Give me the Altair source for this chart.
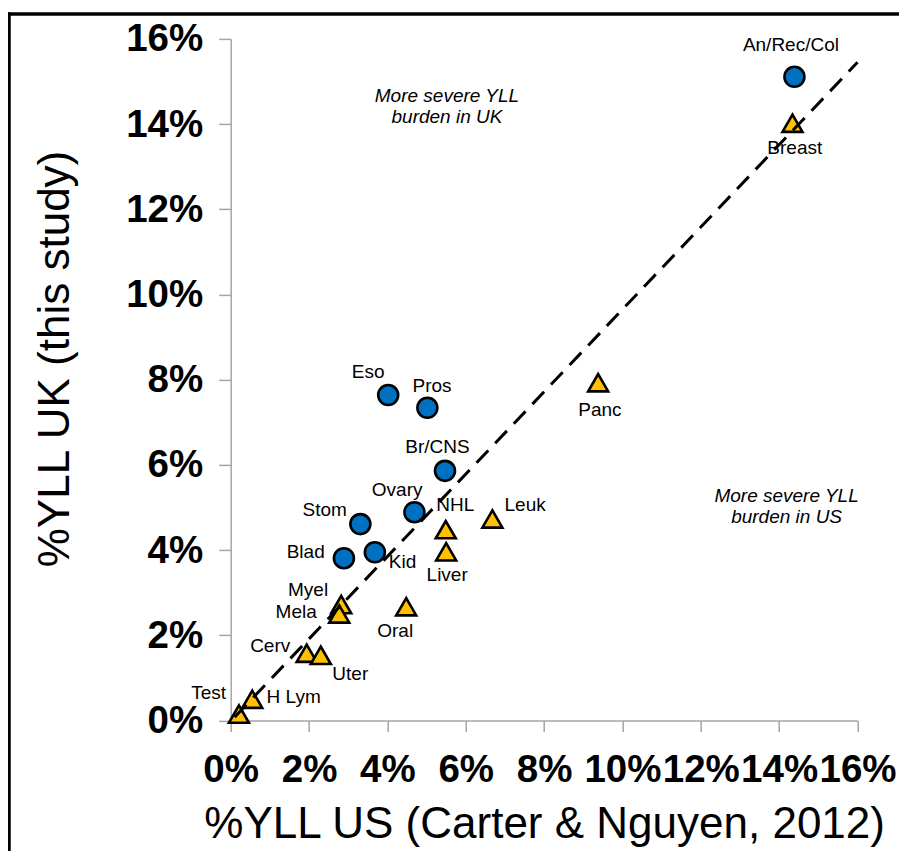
import altair as alt
import pandas as pd

# ---- data ----
names = ["An/Rec/Col", "Breast", "Eso", "Pros", "Br/CNS", "Ovary", "Stom", "Blad",
         "Kid", "NHL", "Liver", "Leuk", "Panc", "Myel", "Mela", "Oral", "Cerv",
         "Uter", "H Lym", "Test"]
yll_us = [14.39, 14.34, 4.02, 5.02, 5.47, 4.69, 3.31, 2.89, 3.68, 5.49, 5.50,
          6.68, 9.38, 2.82, 2.77, 4.48, 1.94, 2.30, 0.55, 0.21]
yll_uk = [15.11, 14.02, 7.64, 7.34, 5.86, 4.89, 4.61, 3.81, 3.95, 4.48, 3.96,
          4.73, 7.93, 2.72, 2.50, 2.67, 1.58, 1.53, 0.50, 0.15]
group = ["circle", "triangle", "circle", "circle", "circle", "circle", "circle",
         "circle", "circle", "triangle", "triangle", "triangle", "triangle",
         "triangle", "triangle", "triangle", "triangle", "triangle", "triangle",
         "triangle"]

trend_x = [0.1, 16.0]
trend_y = [0.08, 15.45]

ann_text = ["More severe YLL\nburden in UK", "More severe YLL\nburden in US"]
ann_x = [5.52, 14.19]
ann_y = [14.53, 5.14]

tick_values = [0, 2, 4, 6, 8, 10, 12, 14, 16]

# label offsets (pixels) relative to each marker
label_offsets = {
    "An/Rec/Col": (-3.5, -31.7), "Breast": (2.3, 25), "Eso": (-20, -22.7),
    "Pros": (4.7, -21.7), "Br/CNS": (-7.5, -23.7), "Ovary": (-17.3, -22.3),
    "Stom": (-35.6, -14), "Blad": (-38.2, -6.6), "Kid": (27.7, 9.4),
    "NHL": (9.6, -24.7), "Liver": (1, 23.3), "Leuk": (32.7, -13.8),
    "Panc": (1.7, 27.2), "Myel": (-33.1, -14.5), "Mela": (-43, -1.9),
    "Oral": (-11, 24), "Cerv": (-36.5, -7), "Uter": (29.5, 18.8),
    "H Lym": (41.4, -2), "Test": (-30.3, -21),
}

FONT = "Liberation Sans"

df = pd.DataFrame({"name": names, "us": yll_us, "uk": yll_uk, "group": group})
trend = pd.DataFrame({"us": trend_x, "uk": trend_y})
ann = pd.DataFrame({"text": ann_text, "us": ann_x, "uk": ann_y})

x_axis = alt.Axis(values=tick_values, labelExpr="datum.value + '%'",
                  title="%YLL US (Carter & Nguyen, 2012)", grid=False,
                  domainColor="#A6A6A6", domainWidth=1.5,
                  tickColor="#A6A6A6", tickWidth=1.5, tickSize=11,
                  labelFont=FONT, labelFontSize=38.5, labelFontWeight="bold",
                  labelColor="black", labelOverlap=False, labelFlush=False,
                  labelBaseline="alphabetic", labelPadding=50,
                  titleFont=FONT, titleFontSize=44, titleFontWeight="normal",
                  titleColor="black", titleBaseline="alphabetic", titleY=116.5)
y_axis = alt.Axis(values=tick_values, labelExpr="datum.value + '%'",
                  title="%YLL UK (this study)", grid=False,
                  domainColor="#A6A6A6", domainWidth=1.5,
                  tickColor="#A6A6A6", tickWidth=1.5, tickSize=12,
                  labelFont=FONT, labelFontSize=38.5, labelFontWeight="bold",
                  labelColor="black", labelOverlap=False, labelFlush=False,
                  labelPadding=16,
                  titleFont=FONT, titleFontSize=44, titleFontWeight="normal",
                  titleColor="black", titleAngle=270, titleAlign="center",
                  titleBaseline="alphabetic", titleX=-162.4, titleY=319.6)

xs = alt.Scale(domain=[0, 16], nice=False, zero=False)
ys = alt.Scale(domain=[0, 16], nice=False, zero=False)

points = alt.Chart(df).mark_point(filled=True, stroke="black", strokeWidth=2.6,
                                  opacity=1, size=400).encode(
    x=alt.X("us:Q", scale=xs, axis=x_axis),
    y=alt.Y("uk:Q", scale=ys, axis=y_axis),
    shape=alt.Shape("group:N", scale=alt.Scale(domain=["circle", "triangle"],
                                               range=["circle", "triangle-up"]),
                    legend=None),
    fill=alt.Fill("group:N", scale=alt.Scale(domain=["circle", "triangle"],
                                             range=["#0070C0", "#FFC000"]),
                  legend=None),
)

line = alt.Chart(trend).mark_line(color="black", strokeWidth=3,
                                  strokeDash=[17, 10]).encode(
    x=alt.X("us:Q", scale=xs), y=alt.Y("uk:Q", scale=ys))

label_layers = []
for nm, (dx, dy) in label_offsets.items():
    label_layers.append(
        alt.Chart(df).transform_filter(alt.datum.name == nm)
        .mark_text(font=FONT, fontSize=19, color="black", align="center",
                   baseline="middle", dx=dx, dy=dy)
        .encode(x=alt.X("us:Q", scale=xs), y=alt.Y("uk:Q", scale=ys),
                text="name:N"))

notes = alt.Chart(ann).mark_text(font=FONT, fontSize=19, fontStyle="italic",
                                 color="black", align="center",
                                 baseline="alphabetic", lineBreak="\n",
                                 lineHeight=21.6).encode(
    x=alt.X("us:Q", scale=xs), y=alt.Y("uk:Q", scale=ys), text="text:N")

frame_data = alt.Data(values=[{"k": 1}])
frame_top = alt.Chart(frame_data).mark_rule(color="black", strokeWidth=3.5).encode(
    x=alt.value(-223), x2=alt.value(800), y=alt.value(-24.9))
frame_left = alt.Chart(frame_data).mark_rule(color="black", strokeWidth=3.5).encode(
    x=alt.value(-221.7), y=alt.value(-26.6), y2=alt.value(900))

chart = alt.layer(points, line, *label_layers, notes, frame_top, frame_left).properties(
    width=626.8, height=681.6,
    autosize=alt.AutoSizeParams(type="none"),
    padding={"left": 222.7, "top": 30.9, "right": 41, "bottom": 130},
    background="white",
).configure_view(stroke="transparent")

chart.save("out.html", embed_options={"renderer": "svg", "actions": False})
